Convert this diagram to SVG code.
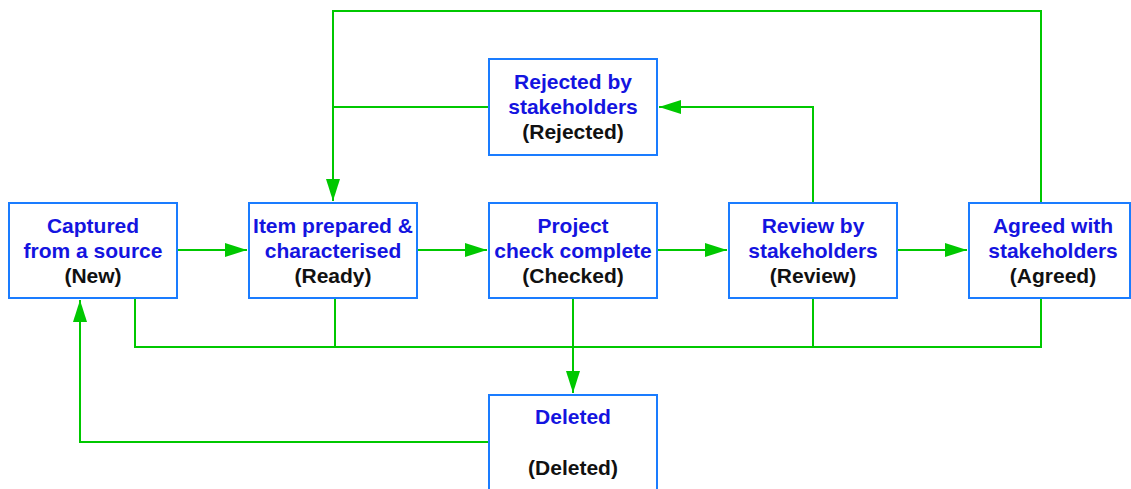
<svg xmlns="http://www.w3.org/2000/svg" width="1131" height="489" viewBox="0 0 1131 489">
<style>
.box{fill:#fff;stroke:#1a7cff;stroke-width:2}
.t{font-family:"Liberation Sans",Arial,sans-serif;font-weight:bold;font-size:21px;text-anchor:middle;fill:#1414e0}
.s{fill:#111}
.c{fill:none;stroke:#00c800;stroke-width:2}
</style>
<defs>
<marker id="a" markerUnits="userSpaceOnUse" markerWidth="24" markerHeight="16" refX="22" refY="7" orient="auto" viewBox="0 0 24 16">
<path d="M0,0 L22,7 L0,14 Z" fill="#00c800"/>
</marker>
</defs>
<g id="connectors">
<path class="c" d="M177,250 H247" marker-end="url(#a)"/>
<path class="c" d="M417,250 H487" marker-end="url(#a)"/>
<path class="c" d="M657,250 H727" marker-end="url(#a)"/>
<path class="c" d="M897,250 H967" marker-end="url(#a)"/>
<path class="c" d="M1041,203 V11 H333 V201" marker-end="url(#a)"/>
<path class="c" d="M489,107 H333"/>
<path class="c" d="M813,203 V107 H659" marker-end="url(#a)"/>
<path class="c" d="M135,298 V347 H1041 V298"/>
<path class="c" d="M335,298 V347"/>
<path class="c" d="M813,298 V347"/>
<path class="c" d="M573,298 V393" marker-end="url(#a)"/>
<path class="c" d="M489,442 H80 V300" marker-end="url(#a)"/>
</g>
<g id="new">
<rect class="box" x="9" y="203" width="168" height="95"/>
<text class="t" x="93" y="233">Captured</text>
<text class="t" x="93" y="258">from a source</text>
<text class="t s" x="93" y="283">(New)</text>
</g>
<g id="ready">
<rect class="box" x="249" y="203" width="168" height="95"/>
<text class="t" x="333" y="233">Item prepared &amp;</text>
<text class="t" x="333" y="258">characterised</text>
<text class="t s" x="333" y="283">(Ready)</text>
</g>
<g id="checked">
<rect class="box" x="489" y="203" width="168" height="95"/>
<text class="t" x="573" y="233">Project</text>
<text class="t" x="573" y="258">check complete</text>
<text class="t s" x="573" y="283">(Checked)</text>
</g>
<g id="review">
<rect class="box" x="729" y="203" width="168" height="95"/>
<text class="t" x="813" y="233">Review by</text>
<text class="t" x="813" y="258">stakeholders</text>
<text class="t s" x="813" y="283">(Review)</text>
</g>
<g id="agreed">
<rect class="box" x="969" y="203" width="161" height="95"/>
<text class="t" x="1053" y="233">Agreed with</text>
<text class="t" x="1053" y="258">stakeholders</text>
<text class="t s" x="1053" y="283">(Agreed)</text>
</g>
<g id="rejected">
<rect class="box" x="489" y="59" width="168" height="96"/>
<text class="t" x="573" y="89">Rejected by</text>
<text class="t" x="573" y="114">stakeholders</text>
<text class="t s" x="573" y="139">(Rejected)</text>
</g>
<g id="deleted">
<rect class="box" x="489" y="395" width="168" height="110"/>
<text class="t" x="573" y="424">Deleted</text>
<text class="t s" x="573" y="475">(Deleted)</text>
</g>
</svg>
